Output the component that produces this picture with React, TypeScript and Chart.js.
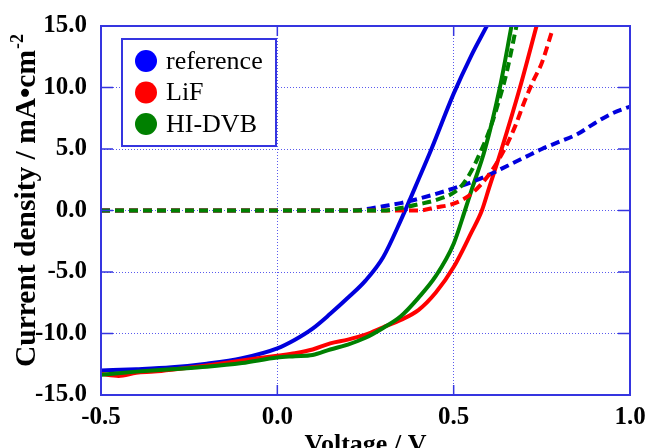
import React, { useEffect, useRef } from 'react';
import { Chart, registerables } from 'chart.js';

Chart.register(...registerables);

// ---- data ----
const seriesNames = ['reference', 'LiF', 'HI-DVB'];
const seriesColors = ['#0000dd', '#ff0000', '#008000'];

const xTickMin = -0.5;
const xTickMax = 1.0;
const xTickStep = 0.5;
const yTickMin = -15;
const yTickMax = 15;
const yTickStep = 5;

// illuminated (solid)
const refLightV = [-0.5, -0.4, -0.3, -0.2, -0.1, 0.0, 0.05, 0.1, 0.15, 0.2, 0.25, 0.3, 0.35, 0.4, 0.437, 0.5, 0.55, 0.594];
const refLightJ = [-13.0, -12.9, -12.75, -12.45, -12.0, -11.2, -10.5, -9.6, -8.4, -7.1, -5.7, -3.8, -0.8, 2.5, 5.0, 9.5, 12.6, 15.0];

const lifLightV = [-0.5, -0.45, -0.4, -0.35, -0.3, -0.2, -0.1, 0.0, 0.05, 0.1, 0.15, 0.2, 0.25, 0.3, 0.35, 0.4, 0.45, 0.5, 0.55, 0.58, 0.6, 0.636, 0.688, 0.735];
const lifLightJ = [-13.3, -13.45, -13.2, -13.1, -12.95, -12.6, -12.2, -11.8, -11.6, -11.3, -10.8, -10.5, -10.1, -9.5, -8.9, -8.1, -6.65, -4.6, -1.8, 0, 1.8, 5, 10, 15];

const hiLightV = [-0.5, -0.4, -0.3, -0.2, -0.1, 0.0, 0.05, 0.1, 0.15, 0.2, 0.25, 0.3, 0.35, 0.4, 0.45, 0.5, 0.532, 0.55, 0.589, 0.631, 0.664];
const hiLightJ = [-13.35, -13.1, -12.9, -12.7, -12.4, -11.95, -11.85, -11.75, -11.3, -10.9, -10.35, -9.55, -8.6, -7.1, -5.3, -2.7, 0, 1.6, 5, 10, 15];

// dark (dashed)
const refDarkV = [-0.5, 0.2, 0.25, 0.3, 0.35, 0.4, 0.45, 0.5, 0.55, 0.6, 0.65, 0.7, 0.75, 0.8, 0.85, 0.9, 0.95, 1.0];
const refDarkJ = [0, 0, 0.1, 0.35, 0.6, 0.95, 1.35, 1.8, 2.3, 2.9, 3.6, 4.3, 5.0, 5.6, 6.2, 7.1, 7.9, 8.45];

const lifDarkV = [-0.5, 0.4, 0.45, 0.5, 0.55, 0.6, 0.625, 0.65, 0.675, 0.7, 0.725, 0.75, 0.778];
const lifDarkJ = [0, 0, 0.25, 0.55, 1.35, 2.9, 4.0, 5.3, 6.9, 8.8, 10.5, 12.0, 14.5];

const hiDarkV = [-0.5, 0.3, 0.35, 0.4, 0.45, 0.5, 0.525, 0.55, 0.575, 0.6, 0.625, 0.65, 0.678];
const hiDarkJ = [0, 0, 0.2, 0.5, 0.85, 1.45, 2.1, 3.2, 4.7, 6.4, 8.6, 11.2, 15];

const xTitle = 'Voltage / V';
const yTitleMain = 'Current density / mA\u2022cm';
const yTitleSup = '-2';

// ---- styling ----
const AXIS_COLOR = '#3535e0';
const GRID_COLOR = '#5a5aee';
const SERIF = "'Liberation Serif', 'Times New Roman', serif";

const toPts = (v: number[], j: number[]) => v.map((x, i) => ({ x, y: j[i] }));

const framePlugin = {
  id: 'frameAndDecor',
  afterDatasetsDraw(chart: any) {
    const { ctx, chartArea: a, scales } = chart;
    const xs = scales.x;
    const ys = scales.y;
    ctx.save();
    // frame
    ctx.strokeStyle = AXIS_COLOR;
    ctx.lineWidth = 2;
    ctx.setLineDash([]);
    ctx.strokeRect(a.left, a.top, a.right - a.left, a.bottom - a.top);
    // inner tick marks
    ctx.lineWidth = 1.5;
    xs.ticks.forEach((t: any) => {
      const px = xs.getPixelForValue(t.value);
      if (px <= a.left + 1 || px >= a.right - 1) return;
      ctx.beginPath();
      ctx.moveTo(px, a.bottom);
      ctx.lineTo(px, a.bottom - 10);
      ctx.moveTo(px, a.top);
      ctx.lineTo(px, a.top + 10);
      ctx.stroke();
    });
    ys.ticks.forEach((t: any) => {
      const py = ys.getPixelForValue(t.value);
      if (py <= a.top + 1 || py >= a.bottom - 1) return;
      ctx.beginPath();
      ctx.moveTo(a.left, py);
      ctx.lineTo(a.left + 12, py);
      ctx.moveTo(a.right, py);
      ctx.lineTo(a.right - 12, py);
      ctx.stroke();
    });

    // legend
    const lx = a.left + 21;
    const ly = a.top + 13;
    const lw = 154;
    const lh = 107;
    ctx.fillStyle = '#ffffff';
    ctx.fillRect(lx, ly, lw, lh);
    ctx.strokeStyle = AXIS_COLOR;
    ctx.lineWidth = 2;
    ctx.strokeRect(lx, ly, lw, lh);
    ctx.font = `26px ${SERIF}`;
    ctx.textBaseline = 'middle';
    ctx.textAlign = 'left';
    seriesNames.forEach((name, i) => {
      const cy = ly + 22 + i * 31.5;
      ctx.beginPath();
      ctx.fillStyle = i === 0 ? '#0000ff' : seriesColors[i];
      ctx.arc(lx + 24, cy, 11, 0, Math.PI * 2);
      ctx.fill();
      ctx.fillStyle = '#000';
      ctx.fillText(name, lx + 44, cy + 1);
    });

    // x title
    ctx.fillStyle = '#000';
    ctx.font = `bold 26px ${SERIF}`;
    ctx.textAlign = 'center';
    ctx.textBaseline = 'alphabetic';
    ctx.fillText(xTitle, (a.left + a.right) / 2, 452);

    // y title
    ctx.save();
    ctx.translate(35, 367);
    ctx.rotate(-Math.PI / 2);
    ctx.textAlign = 'left';
    ctx.font = `bold 29.5px ${SERIF}`;
    ctx.fillText(yTitleMain, 0, 0);
    const w = ctx.measureText(yTitleMain).width;
    ctx.font = `bold 18px ${SERIF}`;
    ctx.fillText(yTitleSup, w + 1, -12);
    ctx.restore();

    ctx.restore();
  },
};

export default function App() {
  const canvasRef = useRef<HTMLCanvasElement | null>(null);

  useEffect(() => {
    if (!canvasRef.current) return;
    const lineDs = (label: string, v: number[], j: number[], color: string, dashed: boolean, order: number) => ({
      label,
      data: toPts(v, j),
      borderColor: color,
      backgroundColor: color,
      borderWidth: 4,
      borderDash: dashed ? [9, 5] : [],
      pointRadius: 0,
      cubicInterpolationMode: 'monotone' as const,
      fill: false,
      order,
    });
    const chart = new Chart(canvasRef.current, {
      type: 'line',
      data: {
        datasets: [
          lineDs(seriesNames[0], refLightV, refLightJ, seriesColors[0], false, 6),
          lineDs(seriesNames[1], lifLightV, lifLightJ, seriesColors[1], false, 5),
          lineDs(seriesNames[2], hiLightV, hiLightJ, seriesColors[2], false, 4),
          lineDs(seriesNames[0] + ' dark', refDarkV, refDarkJ, seriesColors[0], true, 3),
          lineDs(seriesNames[1] + ' dark', lifDarkV, lifDarkJ, seriesColors[1], true, 2),
          lineDs(seriesNames[2] + ' dark', hiDarkV, hiDarkJ, seriesColors[2], true, 1),
        ],
      },
      options: {
        responsive: false,
        animation: false,
        layout: { padding: { top: 26, right: 18, left: 0, bottom: 0 } },
        plugins: { legend: { display: false }, tooltip: { enabled: false } },
        scales: {
          x: {
            type: 'linear',
            min: xTickMin,
            max: xTickMax,
            afterFit: (s: any) => { s.height = 53; s.paddingLeft = 0; s.paddingRight = 0; },
            ticks: {
              stepSize: xTickStep,
              padding: 8,
              color: '#000',
              font: { family: SERIF, size: 25, weight: 'bold' },
              callback: (v: any) => Number(v).toFixed(1),
            },
            grid: { color: GRID_COLOR, lineWidth: 1, drawTicks: false },
            border: { display: false, dash: [1, 2] },
          },
          y: {
            type: 'linear',
            min: yTickMin,
            max: yTickMax,
            afterFit: (s: any) => { s.width = 101; s.paddingTop = 0; s.paddingBottom = 0; },
            ticks: {
              stepSize: yTickStep,
              padding: 14,
              color: '#000',
              font: { family: SERIF, size: 25, weight: 'bold' },
              callback: (v: any) => Number(v).toFixed(1),
            },
            grid: { color: GRID_COLOR, lineWidth: 1, drawTicks: false },
            border: { display: false, dash: [1, 2] },
          },
        },
      },
      plugins: [framePlugin],
    });
    return () => chart.destroy();
  }, []);

  return (
    <div style={{ position: 'fixed', left: 0, top: 0, width: 648, height: 448, overflow: 'hidden', background: '#fff' }}>
      <canvas ref={canvasRef} width={648} height={448} style={{ display: 'block' }} />
    </div>
  );
}
